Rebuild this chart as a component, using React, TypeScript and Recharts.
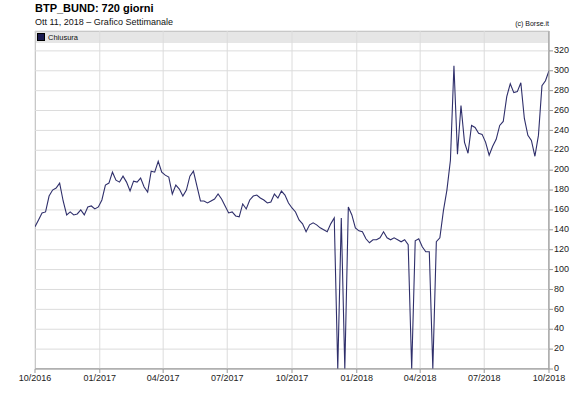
import React from 'react';
import { LineChart, Line, XAxis, YAxis, CartesianGrid } from 'recharts';

// Closing values, one reading every STEP_DAYS days, starting at 10/2016
const STEP_DAYS = 5;
const close2016 = [143, 150, 157, 158, 174, 180, 182, 187, 169, 155, 158, 155, 156, 160, 155, 163, 164, 161, 163];
const close2017 = [
  170, 185, 187, 198, 190, 188, 194, 188, 179, 189, 188,
  192, 183, 178, 199, 198, 209, 198, 195, 193, 176, 185, 181, 174, 180, 194, 199, 184, 169, 169, 167,
  169, 171, 176, 171, 164, 157, 158, 154, 153,
  166, 161, 170, 174, 175, 172, 170, 167, 168, 176, 172, 179, 175, 167, 162, 158, 150, 146, 138, 145,
  147, 145, 142,
  140, 138, 146, 152, 0, 152, 0, 163, 155, 142,
];
const close2018 = [
  139, 138, 131, 127, 130, 130, 132, 138, 132, 130, 132, 130, 128, 130, 125, 0, 129, 131, 123, 118,
  118, 0, 128,
  132, 159, 180, 210, 305, 216, 265, 228, 217, 245, 243, 237, 236, 228, 215, 224, 231, 245, 249, 274,
  287, 278, 279, 288, 252, 235, 230, 214, 235, 285, 290, 300,
];

const tickDays = [0, 92, 182, 273, 365, 457, 547, 638, 730];
const tickLabels = ['10/2016', '01/2017', '04/2017', '07/2017', '10/2017', '01/2018', '04/2018', '07/2018', '10/2018'];
const yTicks = [0, 20, 40, 60, 80, 100, 120, 140, 160, 180, 200, 220, 240, 260, 280, 300, 320];

const closeValues = [...close2016, ...close2017, ...close2018];
const data = closeValues.map((v, i) => ({ day: i * STEP_DAYS, close: v }));

const FONT = "'Liberation Sans', Arial, Helvetica, sans-serif";

const W = 584;
const H = 400;
const PLOT_LEFT = 35;
const PLOT_TOP = 31;
const PLOT_RIGHT = 549;
const PLOT_BOTTOM = 369;

export default function App() {
  const labelFor = (d: number) => {
    const idx = tickDays.indexOf(d);
    return idx >= 0 ? tickLabels[idx] : '';
  };
  return (
    <div style={{ position: 'absolute', left: 0, top: 0, width: W, height: H, background: '#fff', fontFamily: FONT }}>
      <div style={{ position: 'absolute', left: 35, top: 2, fontSize: 11, fontWeight: 'bold', color: '#000', whiteSpace: 'nowrap', lineHeight: '13px' }}>
        BTP_BUND: 720 giorni
      </div>
      <div style={{ position: 'absolute', left: 35, top: 17, fontSize: 9, color: '#111', whiteSpace: 'nowrap', lineHeight: '11px' }}>
        Ott 11, 2018 – Grafico Settimanale
      </div>
      <div style={{ position: 'absolute', right: W - 549, top: 19, fontSize: 7, color: '#111', whiteSpace: 'nowrap', lineHeight: '9px' }}>
        (c) Borse.it
      </div>
      <div
        style={{
          position: 'absolute',
          left: PLOT_LEFT,
          top: PLOT_TOP,
          width: PLOT_RIGHT - PLOT_LEFT,
          height: PLOT_BOTTOM - PLOT_TOP,
          border: '1px solid #b4b4b4',
          boxSizing: 'border-box',
        }}
      >
        <div style={{ position: 'absolute', left: 0, top: 0, right: 0, height: 11, background: '#e6e6e6' }} />
      </div>
      <div style={{ position: 'absolute', left: 0, top: 0 }}>
        <LineChart width={W} height={H} data={data} margin={{ top: PLOT_TOP, right: 5, bottom: 11, left: PLOT_LEFT }}>
          <CartesianGrid stroke="#dcdcdc" strokeWidth={1} />
          <XAxis
            dataKey="day"
            type="number"
            domain={[0, 730]}
            ticks={tickDays}
            tickFormatter={labelFor}
            height={20}
            tickSize={4}
            tickMargin={2}
            interval={0}
            stroke="#999"
            tick={{ fontSize: 9, fill: '#222', fontFamily: FONT }}
            allowDataOverflow
          />
          <YAxis
            orientation="right"
            type="number"
            domain={[0, 340]}
            ticks={yTicks}
            width={30}
            tickSize={4}
            tickMargin={1}
            interval={0}
            stroke="#999"
            tick={{ fontSize: 9, fill: '#222', fontFamily: FONT, textAnchor: 'start', dy: -1 }}
          />
          <Line
            type="linear"
            dataKey="close"
            name="Chiusura"
            stroke="#2f2f6b"
            strokeWidth={1.1}
            dot={false}
            isAnimationActive={false}
          />
        </LineChart>
      </div>
      <div style={{ position: 'absolute', left: 37, top: 32, height: 10, display: 'flex', alignItems: 'center', fontSize: 7.5, color: '#111', whiteSpace: 'nowrap' }}>
        <span style={{ display: 'inline-block', width: 6, height: 6, background: '#1b1b50', border: '0.5px solid #000', marginRight: 3 }} />
        Chiusura
      </div>
    </div>
  );
}
